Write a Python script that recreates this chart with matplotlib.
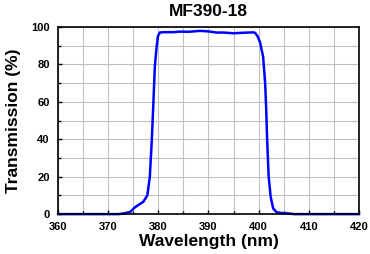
import matplotlib
matplotlib.use('Agg')
import matplotlib.pyplot as plt
from matplotlib.ticker import MultipleLocator

wavelength = [360, 365, 370, 372, 373, 374.4, 375.3, 376.2, 377, 377.8, 378.3, 378.7, 379.0,
              379.3, 379.6, 379.9, 380.3, 381, 383, 384.3, 386, 388.3, 390, 391.6, 393,
              395, 397, 399, 399.3, 399.8, 400.3, 400.9, 401.3, 401.5, 401.7, 402.0,
              402.4, 402.9, 403.6, 404.5, 405.9, 407, 410, 415, 420]
transmission = [0, 0, 0, 0, 0.3, 1.2, 3.6, 5.2, 6.6, 10, 20, 40, 59,
                79, 88, 95, 97, 97.2, 97.2, 97.5, 97.4, 97.9, 97.6, 97.0, 97.0,
                96.6, 96.9, 97.1, 96.8, 95, 91.6, 84, 70, 57, 39.6, 20,
                9.3, 3, 1, 0.6, 0.4, 0, 0, 0, 0]

plt.rcParams['font.family'] = ['Liberation Sans', 'DejaVu Sans']
plt.rcParams['font.weight'] = 'bold'

fig = plt.figure(figsize=(3.7, 2.54), dpi=100)
ax = fig.add_axes([0.157, 0.157, 0.813, 0.737])
ax.plot(wavelength, transmission, color='#0000ff', lw=1.8, clip_on=False)
ax.set_xlim(360, 420)
ax.set_ylim(0, 100)
ax.xaxis.set_major_locator(MultipleLocator(10))
ax.xaxis.set_minor_locator(MultipleLocator(5))
ax.yaxis.set_major_locator(MultipleLocator(20))
ax.yaxis.set_minor_locator(MultipleLocator(10))
ax.grid(which='both', color='#c0c0c0', lw=0.8)
ax.set_axisbelow(True)
ax.tick_params(which='both', direction='in', labelsize=8)
ax.tick_params(axis='x', pad=6)
ax.tick_params(axis='y', pad=6)
ax.tick_params(which='major', length=3, width=1)
ax.tick_params(which='minor', length=2, width=1)
for s in ax.spines.values():
    s.set_linewidth(1.2)
ax.set_title('MF390-18', fontsize=12.5, fontweight='bold', pad=8)
ax.set_xlabel('Wavelength (nm)', fontsize=12.5, fontweight='bold', labelpad=1)
ax.set_ylabel('Transmission (%)', fontsize=12.5, fontweight='bold', labelpad=7)
fig.savefig('out.png', dpi=100)
